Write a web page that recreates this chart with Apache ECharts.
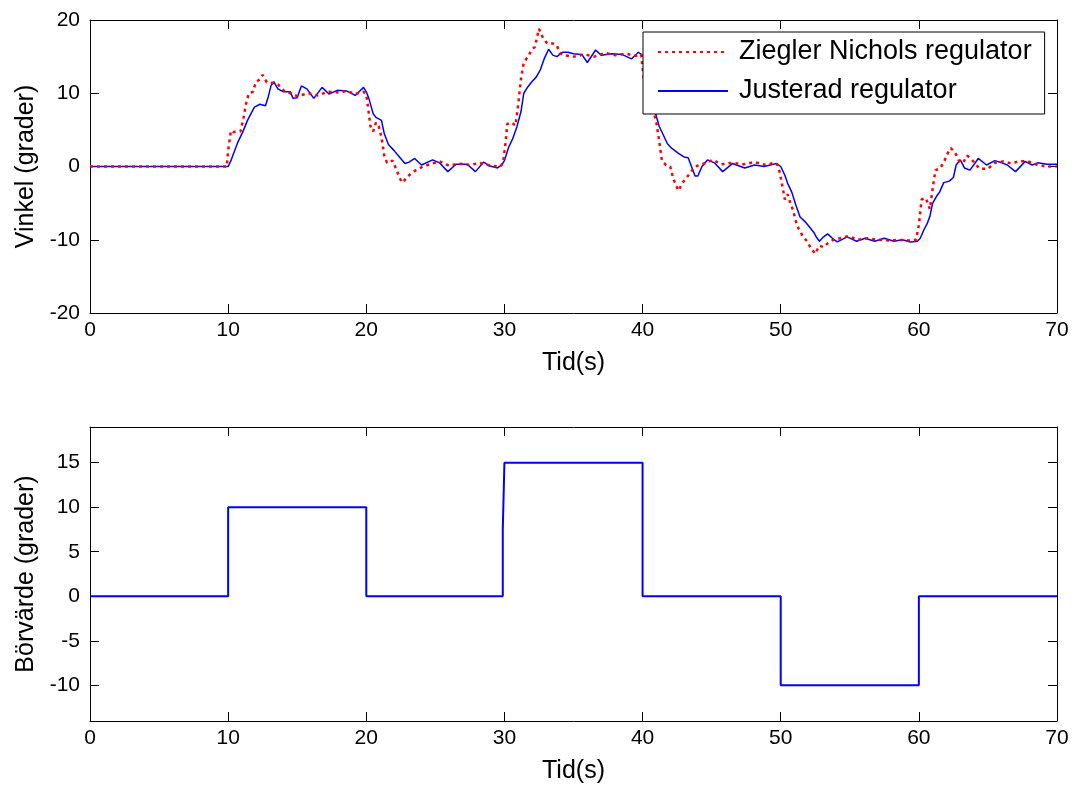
<!DOCTYPE html>
<html>
<head>
<meta charset="utf-8">
<script src="https://cdn.jsdelivr.net/npm/echarts@6/dist/echarts.min.js"></script>
<style>
html,body{margin:0;padding:0;background:#fff;}
#c{width:1072px;height:790px;}
</style>
</head>
<body>
<div id="c"></div>
<script>
// ---- data ----
const xTicks = [0, 10, 20, 30, 40, 50, 60, 70];
const topYTicks = [-20, -10, 0, 10, 20];
const bottomYTicks = [-10, -5, 0, 5, 10, 15];

const seriesNames = ['Ziegler Nichols regulator', 'Justerad regulator'];

const znTime = [0,9.9,10.0,10.2,10.4,10.9,11.1,11.3,11.5,11.8,12.0,12.3,12.5,12.8,13.2,13.6,14.0,14.5,15,15.8,16.5,17.2,18.0,18.6,19.2,19.8,20.0,20.1,20.3,20.5,20.7,20.9,21.1,21.3,21.5,21.9,22.2,22.4,22.6,22.9,23.2,23.6,24.1,24.6,25.3,26,26.7,27.5,28.2,29,29.7,29.9,30.1,30.2,30.5,30.8,31.0,31.2,31.4,31.7,32.0,32.2,32.5,32.8,33.1,33.5,33.8,34.0,34.3,35,35.8,36.5,37.3,38,38.8,39.5,39.9,40.0,40.1,40.4,40.8,41.0,41.2,41.4,41.7,42.0,42.2,42.4,42.6,42.9,43.2,43.4,43.8,44.3,45.1,45.7,46.5,47.3,48.1,48.9,49.5,49.8,49.95,50.1,50.3,50.5,50.7,50.9,51.1,51.3,51.6,51.9,52.2,52.5,52.8,53.1,53.4,53.8,54.3,54.9,55.6,56.3,57.0,57.8,58.5,59.2,59.8,60.0,60.2,60.5,60.8,61.0,61.2,61.5,61.8,62.0,62.3,62.6,62.9,63.2,63.5,63.8,64.4,65.0,65.5,66.1,66.7,67.2,67.9,68.6,69.3,70];
const znValue = [0,0,2.2,4.9,4.7,4.8,6.5,8.6,10,10.2,11.5,11.9,12.5,11.5,11.4,11.2,10.4,10,9.6,10,9.7,10.2,10.1,10.3,9.9,10.2,9.8,8.5,5.5,4.8,6.0,5.5,4.0,1.5,0.5,0.8,-0.5,-1.5,-2.2,-1.6,-1.0,-0.5,0,0.3,0.7,0.1,0.4,0.2,0.5,0.1,0,0.5,3.5,5.8,6.0,5.6,8.5,12,14.2,15,16,16.3,18.8,17.5,16.8,16.8,16.5,15.5,15.2,15,15.3,15,15.5,15.2,15.4,15.1,15.3,13.5,11.7,9.5,7.5,6.0,3.5,0.8,0.2,0,-1.5,-2.5,-3.3,-2.2,-1.5,-1.0,0,0.3,0.9,0.3,0.5,0.3,0.6,0.2,0.5,0.2,-1.0,-2.5,-4.5,-3.8,-5.0,-6.0,-7.5,-8.5,-9.5,-10.2,-11.2,-11.9,-10.8,-11.0,-10.5,-10.0,-9.8,-9.5,-10.0,-9.8,-10.0,-10.1,-10.0,-10.1,-10.0,-8.0,-4.5,-4.3,-5.8,-3.0,-0.5,-0.3,0.5,1.5,2.5,2.0,0.8,0.5,1.5,1.0,-0.3,-0.3,0.5,0.7,0.4,0.7,0.7,0.2,0,0];

const justTime = [0,10,10.2,10.4,10.7,11.1,11.4,11.7,11.9,12.3,12.7,12.9,13.1,13.3,13.6,14.0,14.5,14.7,15.0,15.3,15.7,16.2,16.8,17.3,17.9,18.6,19.2,19.8,20.0,20.2,20.5,20.7,21.1,21.3,21.6,22.0,22.4,22.8,23.1,23.5,24.0,24.8,25.3,25.9,26.5,27.3,27.9,28.5,28.9,29.5,29.8,30.0,30.3,30.6,30.9,31.2,31.4,31.7,32.0,32.3,32.6,32.9,33.2,33.5,33.8,34.2,34.6,35.0,35.6,36.0,36.6,37.0,37.8,38.5,39.2,39.7,40.1,40.5,40.9,41.2,41.5,41.8,42.1,42.6,43.0,43.3,43.5,43.8,44.0,44.3,44.7,45.2,45.8,46.5,47.4,48.1,48.8,49.7,50.0,50.3,50.5,50.8,51.1,51.4,51.8,52.1,52.4,52.6,52.8,53.1,53.4,53.8,54.1,54.8,55.5,56.1,56.8,57.5,58.2,58.8,59.4,59.9,60.1,60.4,60.6,60.8,61.0,61.3,61.5,61.8,62.2,62.5,62.7,63.0,63.3,63.7,64.3,64.9,65.5,66.0,66.4,67.0,67.7,68.2,68.6,69.3,70];
const justValue = [0,0,0.8,1.8,3.3,4.9,6.3,7.4,8.1,8.5,8.3,9.5,11,11.6,10.6,10.2,10.2,9.3,9.4,11.0,10.6,9.3,10.8,9.9,10.4,10.3,9.7,10.8,10.2,9.2,7.2,6.7,6.3,4.5,3.0,2.2,1.3,0.4,0.6,1.1,0.2,0.9,0.5,-0.7,0.3,0.3,-0.7,0.6,0.1,-0.2,0.2,0.8,2.6,3.8,5.4,7.5,10,10.9,11.6,12.2,13.2,14.8,16.0,15.2,15.0,15.6,15.6,15.4,15.3,14.2,15.9,15.2,15.4,15.3,14.7,15.6,15.0,11,7.5,5.5,4.3,3.1,2.5,1.8,1.3,1.2,0.2,-1.3,-1.3,0,0.9,0.5,-0.7,0.4,-0.2,0.2,0,0.4,0,-1.2,-2.3,-3.5,-5.3,-6.9,-7.6,-8.3,-9.0,-9.7,-10.2,-9.6,-9.2,-9.9,-10.3,-9.6,-10.2,-9.8,-10.2,-9.8,-10.2,-10.0,-10.3,-10.2,-9.8,-8.5,-7.8,-6.8,-5.0,-4.0,-3.5,-2.2,-2.0,-1.5,0.2,0.9,-0.2,-0.5,1.1,0.2,0.8,0.5,0.2,-0.7,0.7,0.2,0.5,0.3,0.3];

const refTime = [0,10,10,20,20,29.88,29.88,30,30,40,40,50,50,60,60,70];
const refValue = [0,0,10,10,0,0,7.5,7.5,15,15,0,0,-10,-10,0,0];

// ---- build ----
function zip(a, b) { return a.map((t, i) => [t, b[i]]); }

const FONT = 'Liberation Sans, Arial, sans-serif';
const tickLen = 9;
const lineCol = '#000';

function xAxisPair(gridIndex) {
  const base = {
    type: 'value', gridIndex, min: 0, max: 70, interval: 10,
    splitLine: { show: false },
    axisLine: { show: true, onZero: false, lineStyle: { color: lineCol, width: 1 } },
    axisTick: { show: true, inside: true, length: tickLen, lineStyle: { color: lineCol } }
  };
  return [
    Object.assign({}, base, {
      position: 'bottom',
      axisLabel: { show: true, color: '#000', fontFamily: FONT, fontSize: 21, margin: 7 },
      name: 'Tid(s)', nameLocation: 'middle', nameGap: 38,
      nameTextStyle: { color: '#000', fontFamily: FONT, fontSize: 25 }
    }),
    Object.assign({}, base, { position: 'top', axisLabel: { show: false } })
  ];
}

function yAxisPair(gridIndex, min, max, ticks, name) {
  const base = {
    type: 'value', gridIndex, min, max,
    splitLine: { show: false },
    axisLine: { show: true, onZero: false, lineStyle: { color: lineCol, width: 1 } },
    axisTick: { show: true, inside: true, length: tickLen, customValues: ticks, lineStyle: { color: lineCol } }
  };
  return [
    Object.assign({}, base, {
      position: 'left',
      axisLabel: { show: true, customValues: ticks, color: '#000', fontFamily: FONT, fontSize: 21, margin: 10 },
      name, nameLocation: 'middle', nameGap: 51, nameRotate: 90,
      nameTextStyle: { color: '#000', fontFamily: FONT, fontSize: 25 }
    }),
    Object.assign({}, base, { position: 'right', axisLabel: { show: false } })
  ];
}

const option = {
  backgroundColor: '#fff',
  animation: false,
  grid: [
    { left: 90, right: 15, top: 20, height: 293 },
    { left: 90, right: 15, top: 427, height: 294 }
  ],
  xAxis: [...xAxisPair(0), ...xAxisPair(1)],
  yAxis: [
    ...yAxisPair(0, -20, 20, topYTicks, 'Vinkel (grader)'),
    ...yAxisPair(1, -14, 19, bottomYTicks, 'Börvärde (grader)')
  ],
  legend: {
    show: true,
    data: seriesNames,
    orient: 'vertical',
    left: 643, top: 32,
    backgroundColor: '#fff',
    borderColor: '#000', borderWidth: 1,
    padding: [5, 13, 8, 14],
    itemWidth: 70, itemHeight: 14, itemGap: 9,
    itemStyle: { opacity: 0, borderWidth: 0 },
    textStyle: { color: '#000', fontFamily: FONT, fontSize: 27, lineHeight: 30, padding: [0, 0, 0, 6] },
    z: 10
  },
  series: [
    {
      name: seriesNames[0], type: 'line', xAxisIndex: 0, yAxisIndex: 0,
      data: zip(znTime, znValue), showSymbol: false, symbol: 'none',
      lineStyle: { color: '#ff0000', width: 2.5, type: [3, 4] },
      itemStyle: { color: '#ff0000' }, z: 3
    },
    {
      name: seriesNames[1], type: 'line', xAxisIndex: 0, yAxisIndex: 0,
      data: zip(justTime, justValue), showSymbol: false, symbol: 'none',
      lineStyle: { color: '#0000ff', width: 1.5 },
      itemStyle: { color: '#0000ff' }, z: 2
    },
    {
      name: 'Börvärde', type: 'line', xAxisIndex: 2, yAxisIndex: 2,
      data: zip(refTime, refValue), showSymbol: false, symbol: 'none',
      lineStyle: { color: '#0000ff', width: 2 },
      itemStyle: { color: '#0000ff' }
    }
  ]
};

const chart = echarts.init(document.getElementById('c'), null, { renderer: 'canvas' });
chart.setOption(option);
</script>
</body>
</html>
